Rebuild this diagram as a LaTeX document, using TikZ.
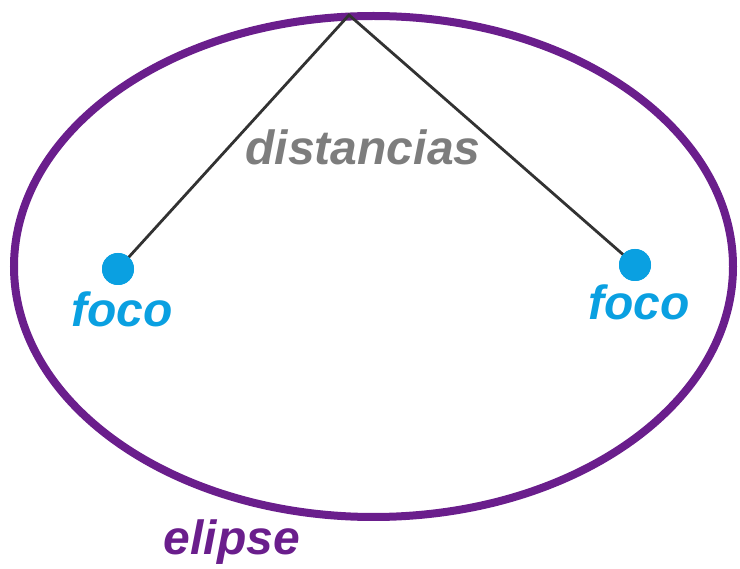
\documentclass[tikz,border=0pt]{standalone}
\usepackage{fontspec}
\setmainfont{Liberation Sans}
\definecolor{elpurple}{RGB}{106,30,140}
\definecolor{focblue}{RGB}{10,160,225}
\definecolor{txtgray}{RGB}{125,125,125}
\definecolor{linegray}{RGB}{50,50,50}
\tikzset{
  lbl/.style={font=\fontsize{48}{48}\selectfont\bfseries\itshape, anchor=base, inner sep=0pt},
  focdot/.style={circle, fill=focblue, minimum size=32pt, inner sep=0pt},
}
\begin{document}
\begin{tikzpicture}[x=1pt,y=-1pt]
\useasboundingbox (0,0) rectangle (740,569);
\draw[elpurple, line width=8pt] (373.5,266.5) ellipse [x radius=359.5, y radius=250.5];
\coordinate (apex) at (349,15);
\node[focdot] (f1) at (118,269) {};
\node[focdot] (f2) at (635,265) {};
\draw[linegray, line width=2.8pt] (f1.center) -- (apex) -- (f2.center);
\node[focdot] at (118,269) {};
\node[focdot] at (635,265) {};
\node[lbl, text=txtgray] (d) at (363,165) {distancias};
\node[lbl, text=focblue] (l1) at (122,327) {foco};
\node[lbl, text=focblue] (l2) at (639,320) {foco};
\node[lbl, text=elpurple] (e) at (232,555) {elipse};
\end{tikzpicture}
\end{document}
